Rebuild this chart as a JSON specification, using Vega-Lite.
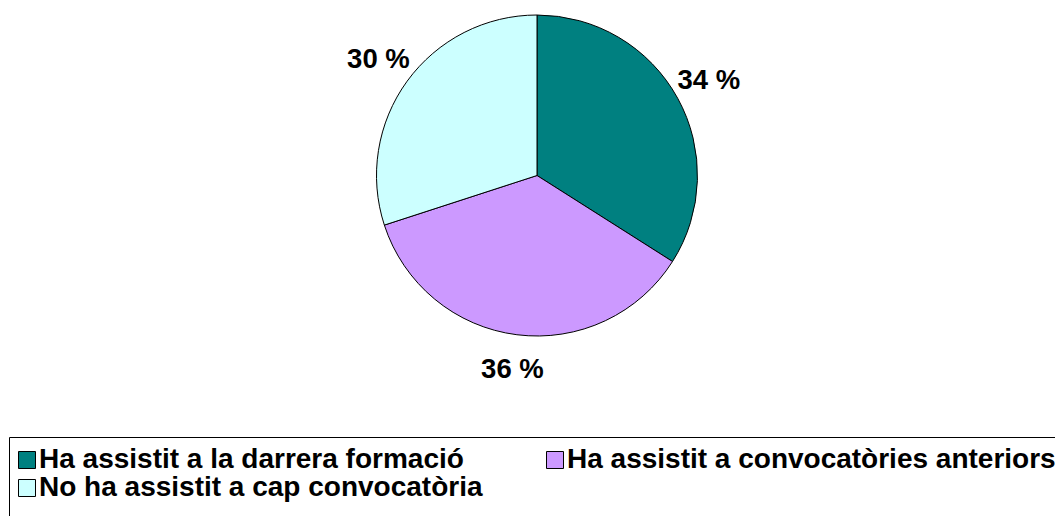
{
  "$schema": "https://vega.github.io/schema/vega-lite/v6.json",
  "autosize": "none",
  "width": 1036,
  "height": 351,
  "padding": {"left": 19, "top": 0, "right": 0, "bottom": 165},
  "background": "white",
  "data": {
    "values": [
      {"cat": "Ha assistit a la darrera formació", "pct": 34, "ord": 1, "label": "34 %"},
      {"cat": "Ha assistit a convocatòries anteriors", "pct": 36, "ord": 2, "label": "36 %"},
      {"cat": "No ha assistit a cap convocatòria", "pct": 30, "ord": 3, "label": "30 %"}
    ]
  },
  "encoding": {
    "theta": {"field": "pct", "type": "quantitative", "stack": true},
    "order": {"field": "ord", "type": "quantitative"}
  },
  "layer": [
    {
      "mark": {"type": "arc", "outerRadius": 160.5, "stroke": "black", "strokeWidth": 1},
      "encoding": {
        "color": {
          "field": "cat",
          "type": "nominal",
          "scale": {
            "domain": ["Ha assistit a la darrera formació", "Ha assistit a convocatòries anteriors", "No ha assistit a cap convocatòria"],
            "range": ["#008080", "#CC99FF", "#CCFFFF"]
          },
          "legend": {
            "orient": "none",
            "legendX": -10,
            "legendY": 437,
            "direction": "horizontal",
            "columns": 2,
            "title": " ",
            "titleOrient": "bottom",
            "titleFontSize": 12,
            "titlePadding": 0,
            "padding": 9,
            "strokeColor": "black",
            "symbolType": "square",
            "symbolSize": 289,
            "symbolOffset": -5,
            "symbolStrokeColor": "black",
            "symbolStrokeWidth": 1,
            "symbolOpacity": 1,
            "labelFont": "Liberation Sans",
            "labelFontWeight": "bold",
            "labelFontSize": 28,
            "labelColor": "black",
            "labelLimit": 700,
            "labelOffset": -2,
            "columnPadding": 61,
            "rowPadding": -1
          }
        }
      }
    },
    {
      "mark": {"type": "text", "radius": 196, "font": "Liberation Sans", "fontWeight": "bold", "fontSize": 27.5, "color": "black", "align": "center", "baseline": "middle"},
      "encoding": {
        "text": {"field": "label", "type": "nominal"}
      }
    }
  ]
}
